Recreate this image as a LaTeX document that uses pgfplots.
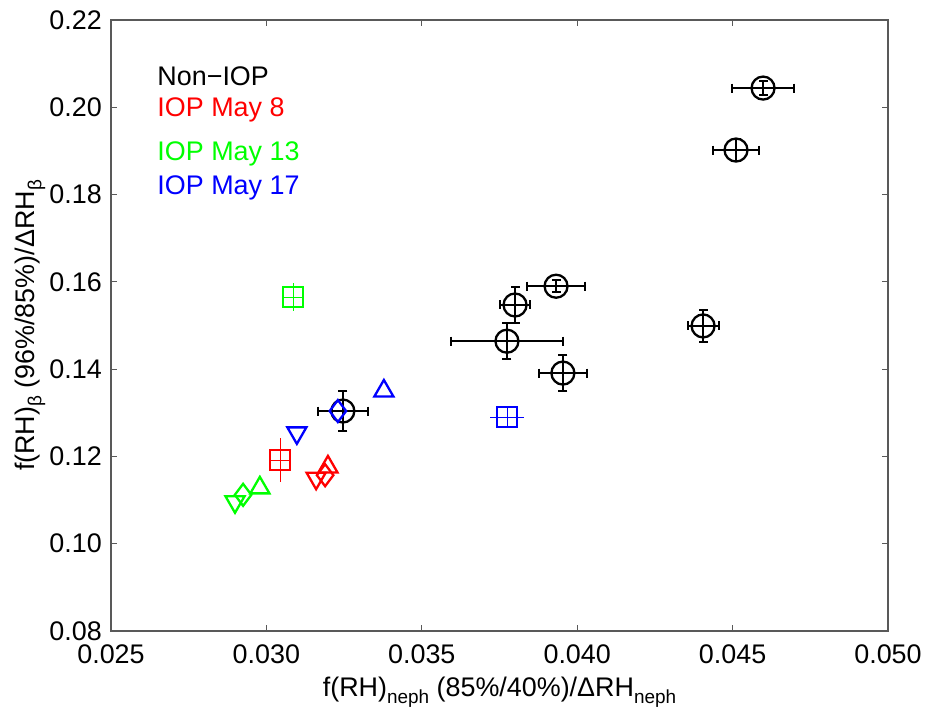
\documentclass[border=0pt]{standalone}
\usepackage{fontspec}
\setmainfont{Liberation Sans}
\usepackage{pgfplots}
\pgfplotsset{compat=1.18}
\usepackage{pgfplotstable}

\definecolor{mred}{rgb}{1,0,0}
\definecolor{mgreen}{rgb}{0,1,0}
\definecolor{mblue}{rgb}{0,0,1}
\newcommand\sub[1]{\raisebox{-0.5ex}{\fontsize{19}{19}\selectfont #1}}

% non-IOP points with their error bars
\pgfplotstableread{
x        y       ex       ey
0.04598  0.2044  0.0010   0.0016
0.04511  0.1902  0.00074  0.0025
0.03932  0.1590  0.00093  0.0014
0.03800  0.1547  0.00049  0.0041
0.03774  0.1464  0.0018   0.0041
0.03954  0.1391  0.00077  0.0041
0.04405  0.1499  0.0005   0.0037
0.03246  0.1304  0.0008   0.0045
}\nonIOP

\begin{document}
\fontsize{27}{32}\selectfont
\begin{tikzpicture}
\begin{axis}[
    scale only axis,
    width=777bp, height=611bp,
    xmin=0.025, xmax=0.05, ymin=0.08, ymax=0.22,
    xtick={0.025,0.030,0.035,0.040,0.045,0.050},
    ytick={0.08,0.10,0.12,0.14,0.16,0.18,0.20,0.22},
    scaled ticks=false,
    xticklabel style={yshift=-5bp, /pgf/number format/.cd, fixed, fixed zerofill, precision=3, assume math mode=true},
    yticklabel style={/pgf/number format/.cd, fixed, fixed zerofill, precision=2, assume math mode=true},
    tick align=inside,
    major tick length=6bp,
    axis line style={draw=black!65, line width=1.2bp},
    every tick/.style={black!65, line width=1.2bp},
    xlabel={f(RH)\sub{neph} (85\%/40\%)/ΔRH\sub{neph}},
    ylabel={f(RH)\sub{β} (96\%/85\%)/ΔRH\sub{β}},
    xlabel style={at={(axis description cs:0.5,-0.0998)}, anchor=center},
    ylabel style={at={(axis description cs:-0.1042,0.5)}, anchor=center},
    every axis plot/.append style={line width=2.3bp},
]
% non-IOP
\addplot[black, only marks, mark=o, mark size=11.5bp,
    error bars/.cd, x dir=both, x explicit, y dir=both, y explicit,
    error bar style={line width=2bp}, error mark=none]
    table[x=x, y=y, x error=ex, y error=ey] {\nonIOP};
% caps at the ends of the error bars
\addplot[black, only marks, mark=|, mark size=4.5bp, mark options={line width=2bp}]
    table[x expr=\thisrow{x}+\thisrow{ex}, y=y] {\nonIOP};
\addplot[black, only marks, mark=|, mark size=4.5bp, mark options={line width=2bp}]
    table[x expr=\thisrow{x}-\thisrow{ex}, y=y] {\nonIOP};
\addplot[black, only marks, mark=-, mark size=4.5bp, mark options={line width=2bp}]
    table[x=x, y expr=\thisrow{y}+\thisrow{ey}] {\nonIOP};
\addplot[black, only marks, mark=-, mark size=4.5bp, mark options={line width=2bp}]
    table[x=x, y expr=\thisrow{y}-\thisrow{ey}] {\nonIOP};

% IOP May 8
\addplot[mred, only marks, mark=square, mark size=10bp,
    error bars/.cd, x dir=both, x fixed=0.0003, y dir=both, y fixed=0.005, error mark=none]
    coordinates {(0.03044,0.1192)};
\addplot[mred, only marks, mark=triangle, mark size=11bp, mark options={rotate=180}]
    coordinates {(0.03160,0.1150)};
\addplot[mred, only marks, mark=diamond, mark size=11bp]
    coordinates {(0.03189,0.1157)};
\addplot[mred, only marks, mark=triangle, mark size=11bp]
    coordinates {(0.03198,0.1176)};

% IOP May 13
\addplot[mgreen, only marks, mark=square, mark size=10bp,
    error bars/.cd, x dir=both, x fixed=0.0003, y dir=both, y fixed=0.0032, error mark=none]
    coordinates {(0.03086,0.1565)};
\addplot[mgreen, only marks, mark=triangle, mark size=11bp, mark options={rotate=180}]
    coordinates {(0.02899,0.1096)};
\addplot[mgreen, only marks, mark=diamond, mark size=11bp]
    coordinates {(0.02925,0.1112)};
\addplot[mgreen, only marks, mark=triangle, mark size=11bp]
    coordinates {(0.02979,0.1128)};

% IOP May 17
\addplot[mblue, only marks, mark=square, mark size=10bp,
    error bars/.cd, x dir=both, x fixed=0.00055, y dir=both, y fixed=0.002, error mark=none]
    coordinates {(0.03774,0.1290)};
\addplot[mblue, only marks, mark=triangle, mark size=11bp, mark options={rotate=180}]
    coordinates {(0.03098,0.1254)};
\addplot[mblue, only marks, mark=diamond, mark size=11bp]
    coordinates {(0.03230,0.1304)};
\addplot[mblue, only marks, mark=triangle, mark size=11bp]
    coordinates {(0.03378,0.1350)};

% legend as coloured text
\node[anchor=west, black] at (axis cs:0.0262,0.2070) {Non−IOP};
\node[anchor=west, mred] at (axis cs:0.0262,0.1995) {IOP May 8};
\node[anchor=west, mgreen] at (axis cs:0.0262,0.1893) {IOP May 13};
\node[anchor=west, mblue] at (axis cs:0.0262,0.1816) {IOP May 17};
\end{axis}
\pgfresetboundingbox
\path[use as bounding box] ([shift={(-111bp,-86bp)}]current axis.south west) rectangle ([shift={(41bp,20bp)}]current axis.north east);
\end{tikzpicture}
\end{document}
